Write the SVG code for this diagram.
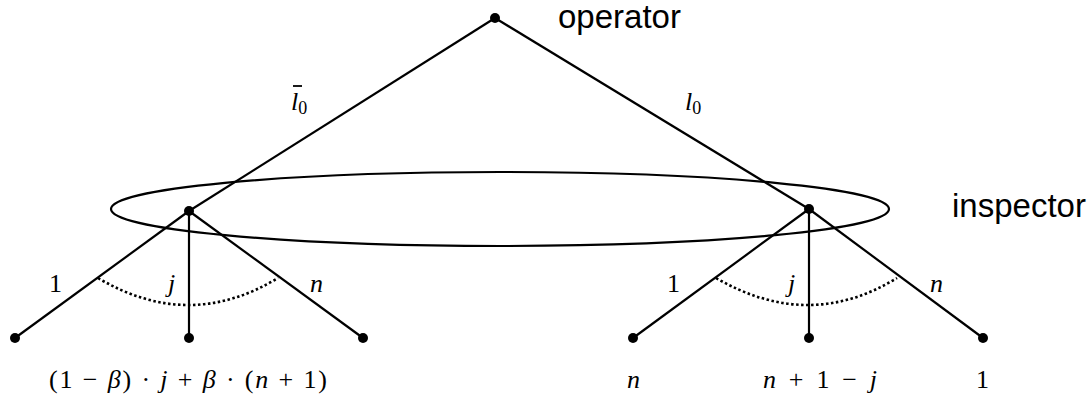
<svg xmlns="http://www.w3.org/2000/svg" width="1091" height="401" viewBox="0 0 1091 401">
<style>
.e{stroke:#000;stroke-width:2.2;fill:none}
.d{stroke:#000;stroke-width:2.6;fill:none;stroke-dasharray:2.5 2.5}
.n{fill:#000}
.t{font-family:"Liberation Sans",Arial,sans-serif;font-size:33px;fill:#000}
.m{font-family:"Liberation Serif","Times New Roman",serif;font-size:26px;fill:#000}
.i{font-style:italic}
</style>
<rect width="1091" height="401" fill="#fff"/>
<g id="connectors">
<line class="e" x1="495" y1="18" x2="189" y2="211"/>
<line class="e" x1="495" y1="18" x2="809" y2="209"/>
<line class="e" x1="189" y1="211" x2="15" y2="338"/>
<line class="e" x1="189" y1="211" x2="189" y2="338"/>
<line class="e" x1="189" y1="211" x2="363" y2="338"/>
<line class="e" x1="809" y1="209" x2="633" y2="338"/>
<line class="e" x1="809" y1="209" x2="809" y2="338"/>
<line class="e" x1="809" y1="209" x2="983" y2="338"/>
<path class="d" d="M98,278 Q189,332 278,278"/>
<path class="d" d="M716,278 Q809,332 897,278"/>
<text class="m" x="291" y="110"><tspan class="i">l</tspan><tspan font-size="18" dy="4">0</tspan></text>
<line x1="293" y1="86" x2="302" y2="86" stroke="#000" stroke-width="1.8"/>
<text class="m" x="685" y="110"><tspan class="i">l</tspan><tspan font-size="18" dy="4">0</tspan></text>
<text class="m" x="49" y="292">1</text>
<text class="m i" x="168" y="292">j</text>
<text class="m i" x="310" y="292">n</text>
<text class="m" x="667" y="292">1</text>
<text class="m i" x="788" y="292">j</text>
<text class="m i" x="930" y="292">n</text>
</g>
<g id="operator">
<circle class="n" cx="495" cy="18" r="5"/>
<text class="t" x="558" y="28">operator</text>
</g>
<g id="inspector">
<ellipse class="e" cx="500" cy="209" rx="389" ry="37"/>
<circle class="n" cx="189" cy="211" r="5"/>
<circle class="n" cx="809" cy="209" r="5"/>
<text class="t" x="952" y="217">inspector</text>
</g>
<g id="leaves-left">
<circle class="n" cx="15" cy="338" r="5"/>
<circle class="n" cx="189" cy="338" r="5"/>
<circle class="n" cx="363" cy="338" r="5"/>
<text class="m" x="49" y="388" textLength="278" lengthAdjust="spacing">(1 − <tspan class="i">β</tspan>) · <tspan class="i">j</tspan> + <tspan class="i">β</tspan> · (<tspan class="i">n</tspan> + 1)</text>
</g>
<g id="leaves-right">
<circle class="n" cx="633" cy="338" r="5"/>
<circle class="n" cx="809" cy="338" r="5"/>
<circle class="n" cx="983" cy="338" r="5"/>
<text class="m i" x="627" y="388">n</text>
<text class="m" x="763" y="388" textLength="114" lengthAdjust="spacing"><tspan class="i">n</tspan> + 1 − <tspan class="i">j</tspan></text>
<text class="m" x="976" y="388">1</text>
</g>
</svg>
